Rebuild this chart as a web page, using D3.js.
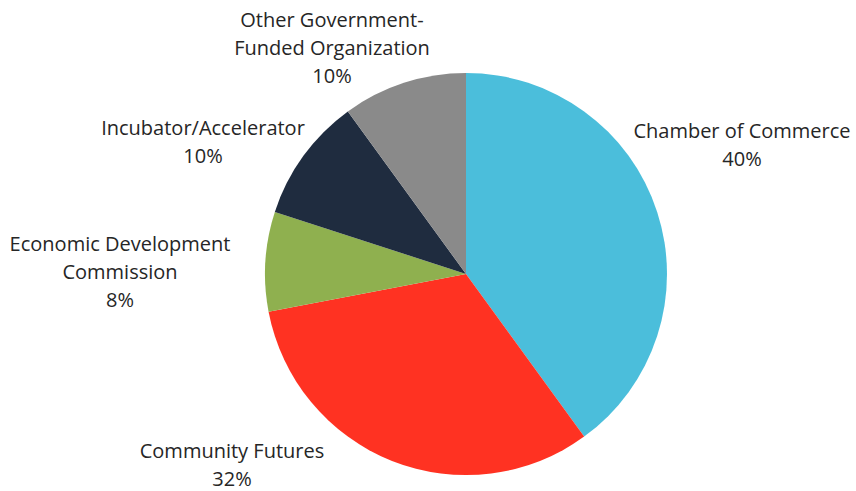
<!DOCTYPE html>
<html>
<head>
<meta charset="utf-8">
<script src="https://cdn.jsdelivr.net/npm/d3@7/dist/d3.min.js"></script>
<style>
  html, body { margin: 0; padding: 0; background: #fff; }
  svg text { font-family: "Open Sans", sans-serif; fill: #262626; }
</style>
</head>
<body>
<svg id="chart" width="856" height="491"></svg>
<script>
// Share of respondents by organization type
const categories = [
  "Chamber of Commerce",
  "Community Futures",
  "Economic Development Commission",
  "Incubator/Accelerator",
  "Other Government-Funded Organization"
];
const values = [40, 32, 8, 10, 10];
const colors = ["#4bbedb", "#ff3222", "#8fb04f", "#1f2c3f", "#8a8a8a"];

// Label text lines and anchor positions for each slice
const labelLines = [
  ["Chamber of Commerce", "40%"],
  ["Community Futures", "32%"],
  ["Economic Development", "Commission", "8%"],
  ["Incubator/Accelerator", "10%"],
  ["Other Government-", "Funded Organization", "10%"]
];
const labelPos = [[742, 138], [232, 458], [120, 251], [203, 135], [332, 27]];

const svg = d3.select("#chart");
const cx = 466, cy = 274, radius = 201;

const data = categories.map((c, i) => ({ name: c, value: values[i], color: colors[i], lines: labelLines[i], pos: labelPos[i] }));

const pie = d3.pie().value(d => d.value).sort(null);
const arc = d3.arc().innerRadius(0).outerRadius(radius);

const g = svg.append("g").attr("transform", `translate(${cx},${cy})`);
g.selectAll("path")
  .data(pie(data))
  .join("path")
  .attr("d", arc)
  .attr("fill", d => d.data.color);

const lineH = 28;
const labels = svg.append("g").selectAll("text")
  .data(data)
  .join("text")
  .attr("text-anchor", "middle")
  .attr("font-size", 20)
  .attr("x", d => d.pos[0])
  .attr("y", d => d.pos[1]);
labels.selectAll("tspan")
  .data(d => d.lines.map((l, i) => ({ l, i, x: d.pos[0] })))
  .join("tspan")
  .attr("x", d => d.x)
  .attr("dy", d => d.i === 0 ? 0 : lineH)
  .text(d => d.l);
</script>
</body>
</html>
